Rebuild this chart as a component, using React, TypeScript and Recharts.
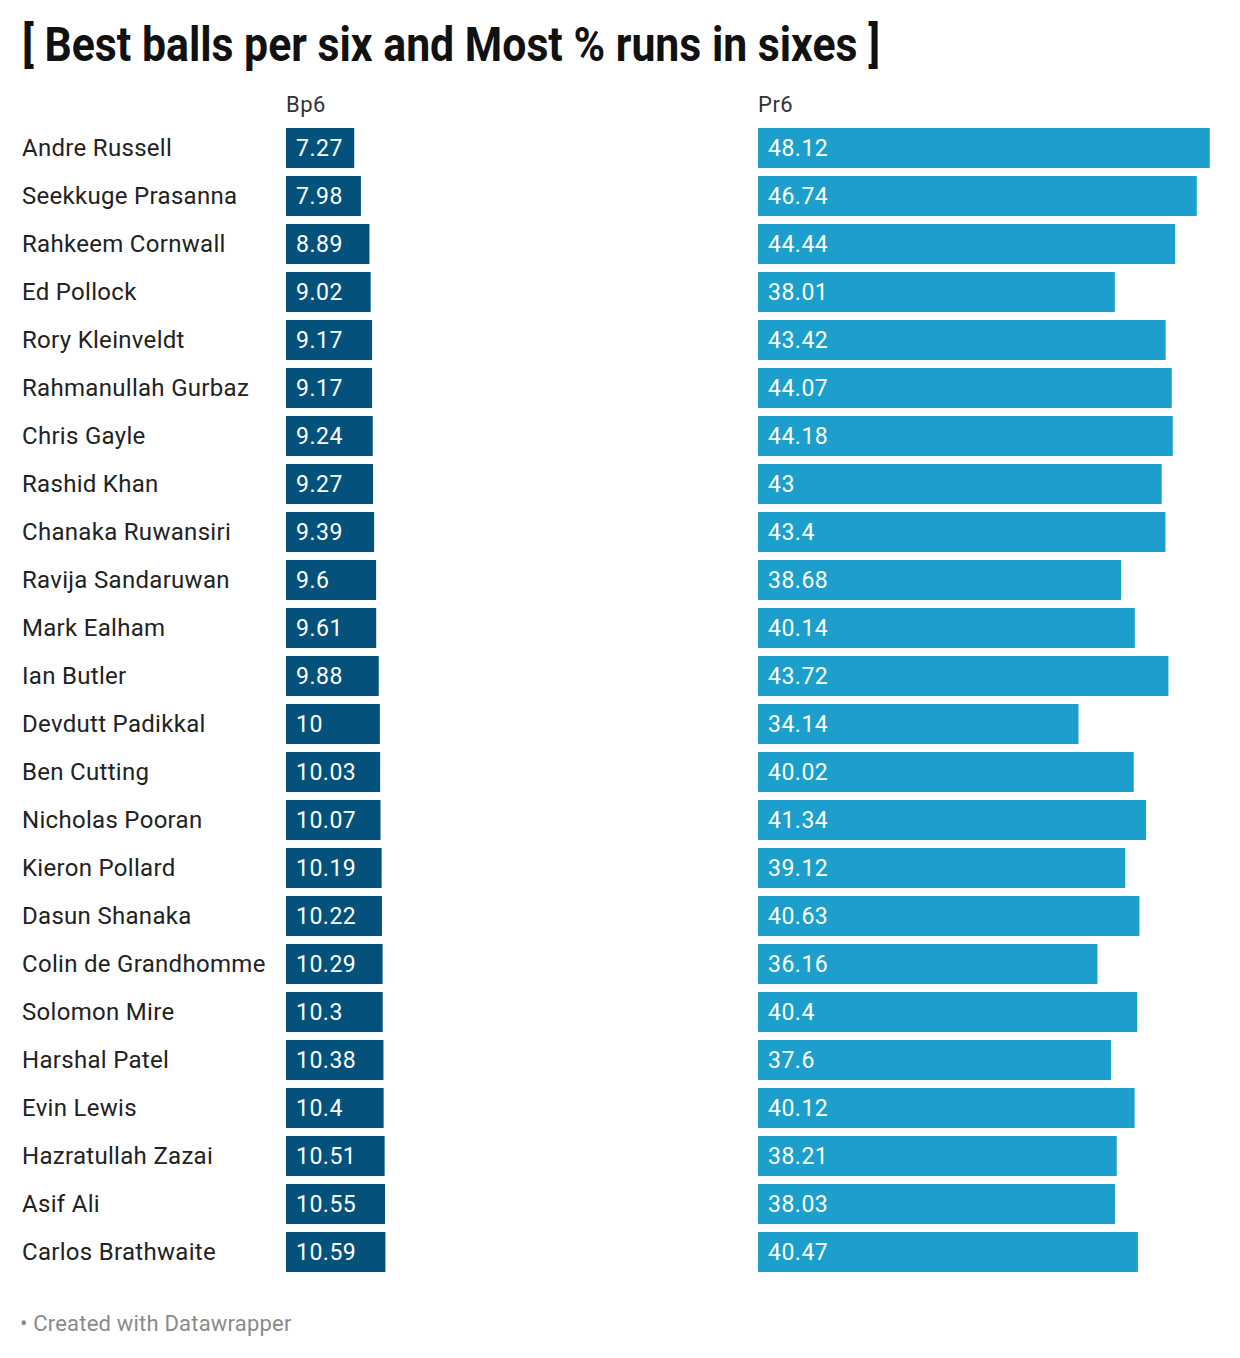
import React from "react";
import { BarChart, Bar, XAxis, YAxis, LabelList } from "recharts";

const names = [
  "Andre Russell", "Seekkuge Prasanna", "Rahkeem Cornwall", "Ed Pollock", "Rory Kleinveldt",
  "Rahmanullah Gurbaz", "Chris Gayle", "Rashid Khan", "Chanaka Ruwansiri", "Ravija Sandaruwan",
  "Mark Ealham", "Ian Butler", "Devdutt Padikkal", "Ben Cutting", "Nicholas Pooran",
  "Kieron Pollard", "Dasun Shanaka", "Colin de Grandhomme", "Solomon Mire", "Harshal Patel",
  "Evin Lewis", "Hazratullah Zazai", "Asif Ali", "Carlos Brathwaite",
];
const bp6 = [7.27, 7.98, 8.89, 9.02, 9.17, 9.17, 9.24, 9.27, 9.39, 9.6, 9.61, 9.88, 10, 10.03, 10.07, 10.19, 10.22, 10.29, 10.3, 10.38, 10.4, 10.51, 10.55, 10.59];
const pr6 = [48.12, 46.74, 44.44, 38.01, 43.42, 44.07, 44.18, 43, 43.4, 38.68, 40.14, 43.72, 34.14, 40.02, 41.34, 39.12, 40.63, 36.16, 40.4, 37.6, 40.12, 38.21, 38.03, 40.47];
const columnTitles = ["Bp6", "Pr6"];
const title = "[ Best balls per six and Most % runs in sixes ]";
const footer = "• Created with Datawrapper";

const data = names.map((name, i) => ({ name, bp6: bp6[i], pr6: pr6[i] }));

const FONT = "Roboto, 'Noto Sans', sans-serif";
const DOMAIN: [number, number] = [0, 49];

const NameTick = (props: any) => {
  const { y, payload } = props;
  return (
    <text x={22} y={y} dominantBaseline="central" fontSize={24} fill="#222" fontFamily={FONT} letterSpacing={0.3}>
      {payload.value}
    </text>
  );
};

export default function App() {
  return (
    <div style={{ position: "relative", width: 1240, height: 1358, margin: -8, background: "#fff", fontFamily: FONT }}>
      <svg style={{ position: "absolute", left: 0, top: 0 }} width={1240} height={80}>
        <text x={22} y={61} fontSize={48} fontWeight={700} fill="#111" fontFamily={FONT} textLength={858} lengthAdjust="spacingAndGlyphs">
          {title}
        </text>
      </svg>
      <div style={{ position: "absolute", left: 286, top: 92, fontSize: 22, color: "#333", letterSpacing: 0.5 }}>{columnTitles[0]}</div>
      <div style={{ position: "absolute", left: 758, top: 92, fontSize: 22, color: "#333", letterSpacing: 0.5 }}>{columnTitles[1]}</div>

      <div style={{ position: "absolute", left: 0, top: 124 }}>
        <BarChart width={746} height={1152} data={data} layout="vertical" margin={{ top: 0, right: 0, bottom: 0, left: 0 }} barCategoryGap={4}>
          <XAxis type="number" domain={DOMAIN} hide />
          <YAxis type="category" dataKey="name" width={286} tickLine={false} axisLine={false} tick={<NameTick />} interval={0} />
          <Bar dataKey="bp6" fill="#04527c" isAnimationActive={false}>
            <LabelList dataKey="bp6" position="insideLeft" offset={10} fill="#fff" fontSize={23} fontFamily={FONT} letterSpacing={0.5} />
          </Bar>
        </BarChart>
      </div>

      <div style={{ position: "absolute", left: 758, top: 124 }}>
        <BarChart width={460} height={1152} data={data} layout="vertical" margin={{ top: 0, right: 0, bottom: 0, left: 0 }} barCategoryGap={4}>
          <XAxis type="number" domain={DOMAIN} hide />
          <YAxis type="category" dataKey="name" hide />
          <Bar dataKey="pr6" fill="#1c9fcd" isAnimationActive={false}>
            <LabelList dataKey="pr6" position="insideLeft" offset={10} fill="#fff" fontSize={23} fontFamily={FONT} letterSpacing={0.5} />
          </Bar>
        </BarChart>
      </div>

      <div style={{ position: "absolute", left: 20, top: 1311, fontSize: 22, color: "#8a8a8a", letterSpacing: 0.2 }}>{footer}</div>
    </div>
  );
}
